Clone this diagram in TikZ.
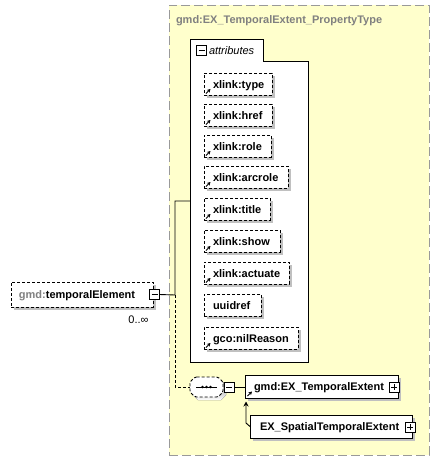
\documentclass[tikz,border=0pt]{standalone}
\usepackage{fontspec}
\setmainfont{Liberation Sans}
\usetikzlibrary{arrows.meta,shadows}
\definecolor{bgyellow}{RGB}{255,255,204}
\definecolor{framegray}{RGB}{153,153,153}
\definecolor{shade}{RGB}{192,192,192}
\definecolor{prefixgray}{RGB}{128,128,128}
\newcommand{\minusicon}[3]{\node[iconbox] (#1) at (#2,#3) {};
  \draw[line width=0.9pt] ([xshift=2pt]#1.west) -- ([xshift=-2pt]#1.east);}
\newcommand{\plusicon}[3]{\node[iconbox] (#1) at (#2,#3) {};
  \draw[line width=0.9pt] ([xshift=2pt]#1.west) -- ([xshift=-2pt]#1.east);
  \draw[line width=0.9pt] ([yshift=-2pt]#1.north) -- ([yshift=2pt]#1.south);}
\newcommand{\linkicon}[2]{\draw[-{Stealth[length=3.5pt,width=3.8pt]}, line width=0.9pt] (#1,#2) -- ++(4.5,-4.5);}
\begin{document}
\begin{tikzpicture}[x=1pt,y=-1pt,
  every node/.style={inner sep=0pt, outer sep=0pt},
  shd/.style={general shadow={fill=shade, shadow xshift=3pt, shadow yshift=-3pt}},
  attrbox/.style={shd, draw, fill=white, dash pattern=on 3pt off 2pt, line width=0.9pt, anchor=north west, minimum height=22pt},
  elembox/.style={shd, draw, fill=white, line width=0.9pt, anchor=north west},
  lbl/.style={font=\bfseries\fontsize{11}{13}\selectfont, anchor=base west},
  iconbox/.style={draw, fill=white, line width=0.9pt, minimum size=10pt},
  conn/.style={line width=0.9pt}]
\useasboundingbox (0,0) rectangle (440,461);
% outer complex type
\node[draw=framegray, fill=bgyellow, line width=1pt, dash pattern=on 9pt off 4pt,
  anchor=north west, minimum width=260pt, minimum height=450pt] (ctype) at (169,5) {};
\node[font=\bfseries\fontsize{11}{13}\selectfont, text=prefixgray, anchor=base west] (ctitle) at (176,23) {gmd:EX\_TemporalExtent\_PropertyType};
% attributes group
\draw[line width=0.9pt, fill=white] (190,39) -- (263,39) -- (263,61) -- (308,61) -- (308,362) -- (190,362) -- cycle;
\coordinate (attrtop) at (190,201);
\minusicon{attrminus}{201.5}{50.5}
\node[font=\itshape\fontsize{11}{13}\selectfont, anchor=base west] (attrlbl) at (209,54) {attributes};
\foreach \t/\r/\n/\txt/\lk in {73/272/atype/xlink:type/1, 104/272/ahref/xlink:href/1, 135/271/arole/xlink:role/1,
  166/288/aarcrole/xlink:arcrole/1, 198/270/atitle/xlink:title/1, 230/280/ashow/xlink:show/1,
  262/289/aactuate/xlink:actuate/1, 294/261/auuid/uuidref/0, 327/298/anil/gco:nilReason/1}{
  \node[attrbox, minimum width={(\r-204)*1pt}] (\n) at (204,\t) {};
  \node[lbl] (\n-t) at (213,\t+15) {\txt};
  \ifnum\lk=1 \linkicon{206}{\t+20.5}\fi
}
% temporalElement
\node[attrbox, minimum width=142pt, minimum height=25pt] (telem) at (11,282) {};
\node[lbl] (telem-t) at (19,298.5) {\textcolor{prefixgray}{gmd:}temporalElement};
\minusicon{telemminus}{154.5}{294.5}
\node[font=\fontsize{11}{13}\selectfont, anchor=base east] (telemocc) at (148.5,323.5) {0..\char"221E};
% connectors
\coordinate (jn) at (175,295);
\coordinate (jt) at (175,201);
\coordinate (jb) at (175,387);
\draw[conn] (telemminus.east) -- (jn) -- (jt) -- (attrtop);
% sequence
\coordinate (seqw) at (190,387);
\coordinate (seq) at (206.5,387);
\draw[conn, dash pattern=on 3pt off 2pt] (jn) -- (jb) -- (seqw);
\fill[shade] (198,380) -- (221,380) -- (226,385) -- (226,395) -- (221,400) -- (198,400) -- (193,395) -- (193,385) -- cycle;
\draw[fill=white, line width=0.9pt, dash pattern=on 3pt off 2pt, rounded corners=1.5pt]
  (195,377) -- (218,377) -- (223,382) -- (223,392) -- (218,397) -- (195,397) -- (190,392) -- (190,382) -- cycle;
\draw[line width=1pt] (196,387) -- (217,387);
\foreach \dx in {-4,0,4} \fill ([xshift=\dx pt]seq) circle (1.4pt);
\minusicon{seqminus}{229}{387}
% gmd:EX_TemporalExtent
\node[elembox, minimum width=153pt, minimum height=23pt] (tex) at (245,375) {};
\node[lbl] (tex-t) at (254,390.5) {gmd:EX\_TemporalExtent};
\linkicon{247.5}{396}
\plusicon{texplus}{394}{387}
\draw[conn] (seqminus.east) -- (tex.west |- seqminus.east);
% EX_SpatialTemporalExtent
\node[elembox, minimum width=162pt, minimum height=23pt] (stex) at (250,415) {};
\node[lbl] (stex-t) at (260,430.5) {EX\_SpatialTemporalExtent};
\plusicon{stexplus}{410}{427}
\coordinate (bend) at (246,423);
\draw[conn, -{Stealth[length=5pt,width=5pt]}] (stex.west) -- (bend) -- (246,401.5);
\end{tikzpicture}
\end{document}
